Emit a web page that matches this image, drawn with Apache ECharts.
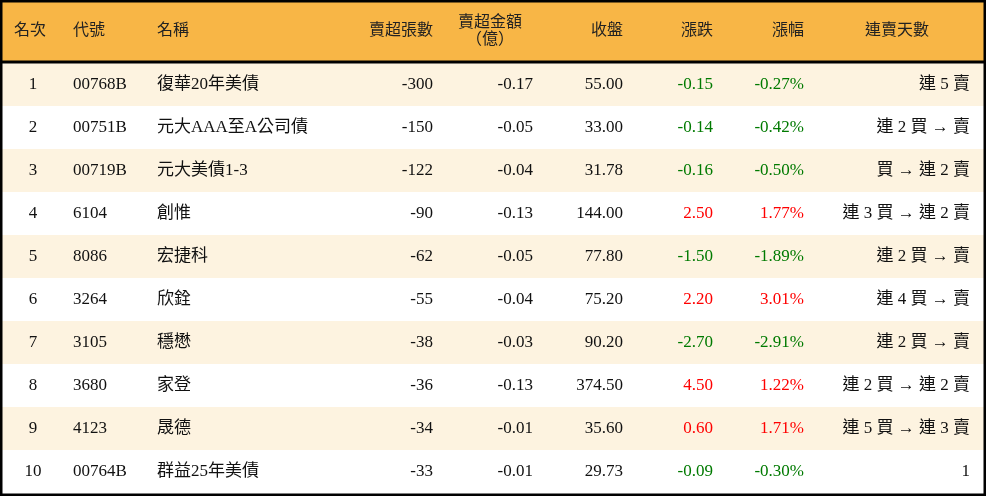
<!DOCTYPE html>
<html><head><meta charset="utf-8">
<script src="https://cdn.jsdelivr.net/npm/echarts@6/dist/echarts.min.js"></script>
<style>html,body{margin:0;padding:0;background:#fff}#main{width:986px;height:496px}</style>
</head><body><div id="main"></div>
<script>
var headers = ['名次', '代號', '名稱', '賣超張數', '賣超金額\n（億）', '收盤', '漲跌', '漲幅', '連賣天數'];
var ranks = [1, 2, 3, 4, 5, 6, 7, 8, 9, 10];
var codes = ['00768B', '00751B', '00719B', '6104', '8086', '3264', '3105', '3680', '4123', '00764B'];
var names = ['復華20年美債', '元大AAA至A公司債', '元大美債1-3', '創惟', '宏捷科', '欣銓', '穩懋', '家登', '晟德', '群益25年美債'];
var sellLots = [-300, -150, -122, -90, -62, -55, -38, -36, -34, -33];
var sellAmt = ['-0.17', '-0.05', '-0.04', '-0.13', '-0.05', '-0.04', '-0.03', '-0.13', '-0.01', '-0.01'];
var closes = ['55.00', '33.00', '31.78', '144.00', '77.80', '75.20', '90.20', '374.50', '35.60', '29.73'];
var changes = ['-0.15', '-0.14', '-0.16', '2.50', '-1.50', '2.20', '-2.70', '4.50', '0.60', '-0.09'];
var pcts = ['-0.27%', '-0.42%', '-0.50%', '1.77%', '-1.89%', '3.01%', '-2.91%', '1.22%', '1.71%', '-0.30%'];
var streaks = ['連 5 賣', '連 2 買 → 賣', '買 → 連 2 賣', '連 3 買 → 連 2 賣', '連 2 買 → 賣', '連 4 買 → 賣', '連 2 買 → 賣', '連 2 買 → 連 2 賣', '連 5 買 → 連 3 賣', '1'];

var chart = echarts.init(document.getElementById('main'));
var font = '"Liberation Serif", "Noto Sans CJK TC", serif';
var cols = [
  {x: 33, align: 'center', hx: 14, halign: 'left'},
  {x: 73, align: 'left', hx: 73, halign: 'left'},
  {x: 157, align: 'left', hx: 157, halign: 'left'},
  {x: 433, align: 'right', hx: 433, halign: 'right'},
  {x: 533, align: 'right', hx: 490, halign: 'center'},
  {x: 623, align: 'right', hx: 623, halign: 'right'},
  {x: 713, align: 'right', hx: 713, halign: 'right'},
  {x: 804, align: 'right', hx: 804, halign: 'right'},
  {x: 970, align: 'right', hx: 897, halign: 'center'}
];
var top0 = 63, rowH = 43;
var els = [];
els.push({type: 'rect', shape: {x: 0, y: 0, width: 986, height: 62}, style: {fill: '#F8B646'}});
ranks.forEach(function (r, i) {
  els.push({type: 'rect', shape: {x: 0, y: top0 + i * rowH, width: 986, height: rowH},
    style: {fill: i % 2 === 0 ? '#FDF3E0' : '#FFFFFF'}});
});
headers.forEach(function (h, j) {
  els.push({type: 'text', x: cols[j].hx, y: 31, style: {text: h, font: '16px ' + font,
    fill: '#222', align: cols[j].halign, verticalAlign: 'middle', lineHeight: 17}});
});
ranks.forEach(function (r, i) {
  var up = parseFloat(changes[i]) > 0;
  var c = up ? '#FF0000' : '#007A00';
  var vals = [r, codes[i], names[i], sellLots[i], sellAmt[i], closes[i], changes[i], pcts[i], streaks[i]];
  vals.forEach(function (v, j) {
    els.push({type: 'text', x: cols[j].x, y: top0 + i * rowH + rowH / 2,
      style: {text: String(v), font: '17px ' + font, fill: (j === 6 || j === 7) ? c : '#111',
        align: cols[j].align, verticalAlign: 'middle'}});
  });
});
els.push({type: 'line', shape: {x1: 0, y1: 62, x2: 986, y2: 62}, style: {stroke: '#000', lineWidth: 3}});
els.push({type: 'rect', shape: {x: 1, y: 1, width: 984, height: 494}, style: {fill: 'none', stroke: '#000', lineWidth: 3}});
chart.setOption({graphic: els});
</script></body></html>
